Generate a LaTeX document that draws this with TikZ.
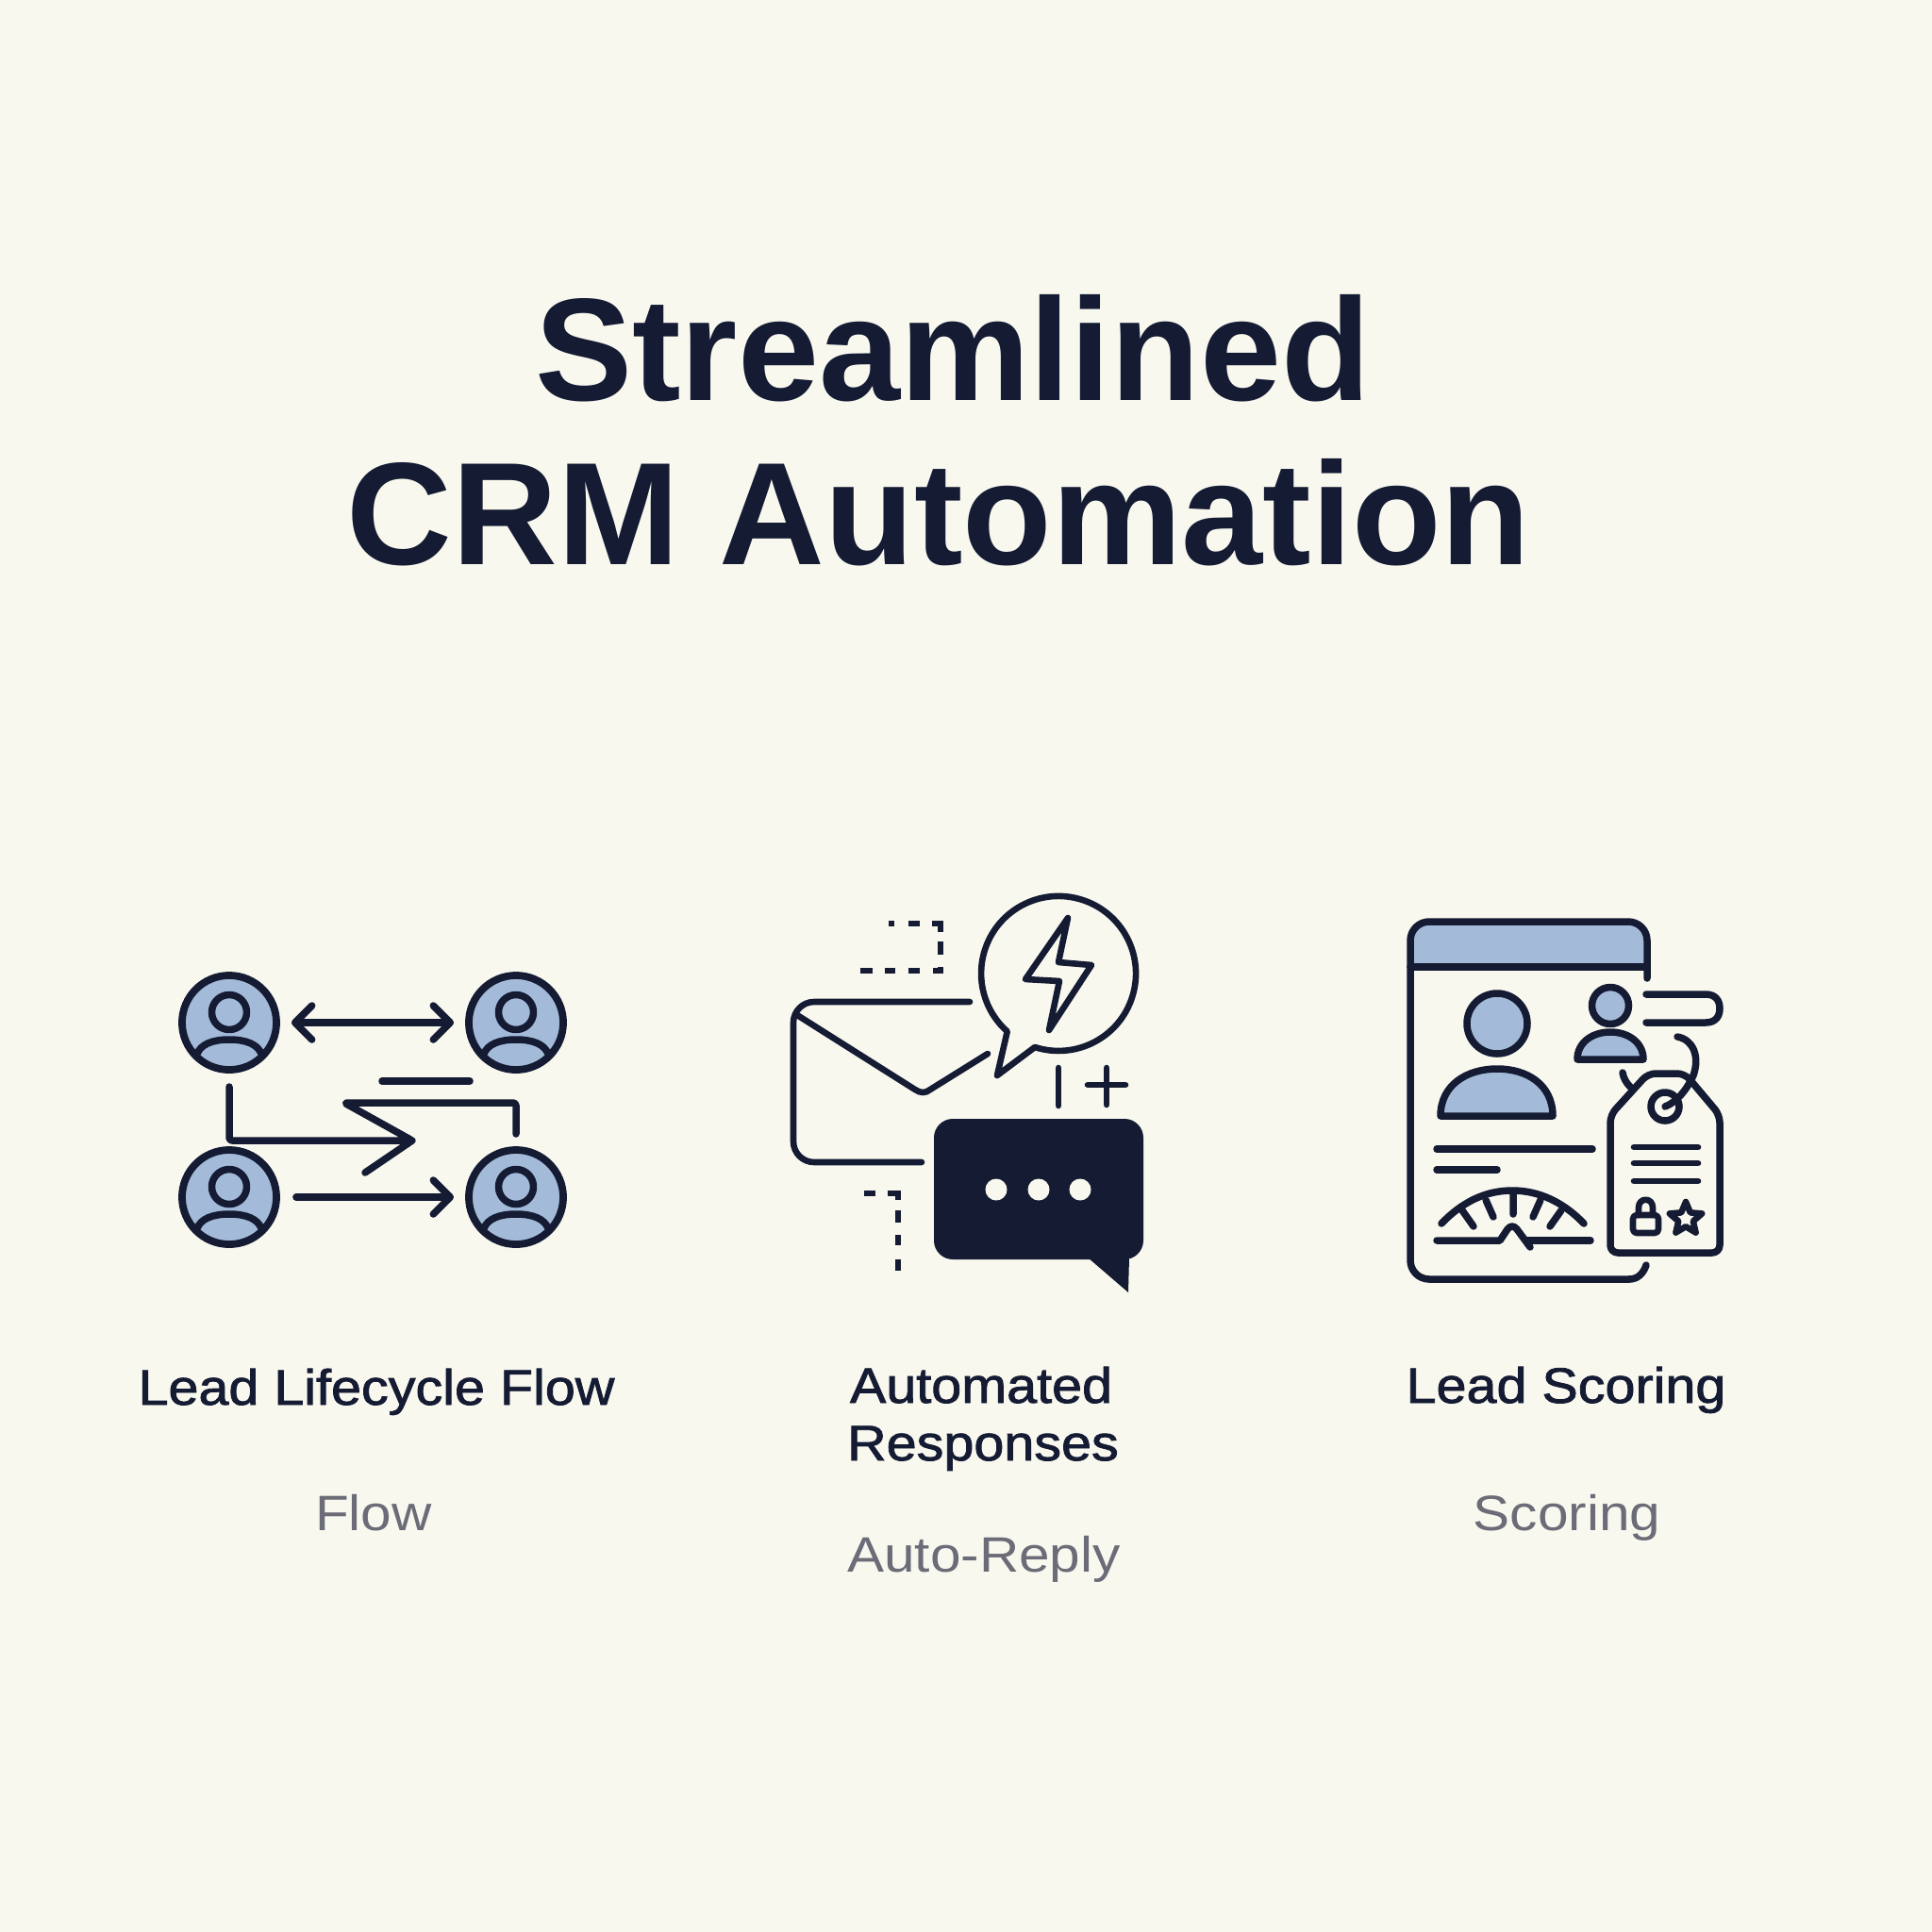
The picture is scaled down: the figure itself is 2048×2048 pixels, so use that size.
\documentclass[tikz,border=0pt]{standalone}
\usepackage{fontspec}
\setmainfont{Liberation Sans}
\newfontfamily\labelfont[FakeBold=1.6, FakeStretch=1.09]{Liberation Sans}
\newfontfamily\subfont[FakeStretch=1.11]{Liberation Sans}
\usetikzlibrary{arrows.meta, shapes.geometric}

\definecolor{paper}{HTML}{F8F8EF}
\definecolor{ink}{HTML}{141B33}
\definecolor{skyfill}{HTML}{A3BBD9}
\definecolor{greytext}{HTML}{6C6C78}

\tikzset{
	ln/.style={ink, line width=0.075cm, line cap=round, line join=round},
	lnthin/.style={ink, line width=0.066cm, line cap=round, line join=round},
	barb/.style={-{Straight Barb[round, length=0.18cm, width=0.36cm]}},
	dbarb/.style={{Straight Barb[round, length=0.18cm, width=0.36cm]}-{Straight Barb[round, length=0.18cm, width=0.36cm]}},
	person/.style={circle, draw=ink, fill=skyfill, line width=0.078cm, minimum size=1cm, inner sep=0pt},
	titletext/.style={ink, font=\fontsize{44}{44}\selectfont\bfseries, anchor=base},
	labeltext/.style={ink, font=\fontsize{15}{15}\selectfont\labelfont, anchor=base},
	subtext/.style={greytext, font=\fontsize{15}{15}\selectfont\subfont, anchor=base},
}

\begin{document}
\begin{tikzpicture}[x=0.01cm, y=-0.01cm]
	\fill[paper] (0,0) rectangle (2048,2048);
	\useasboundingbox (0,0) rectangle (2048,2048);

	% titles
	\node[titletext] (title1) at (1010,424) {Streamlined};
	\node[titletext] (title2) at (995,598) {CRM Automation};

	% lifecycle flow
	\node[person] (p1) at (243,1084) {};
	\node[person] (p2) at (547,1084) {};
	\node[person] (p3) at (243,1269) {};
	\node[person] (p4) at (547,1269) {};
	\foreach \pp in {p1,p2,p3,p4} {
		\draw[ln] (\pp) ++(0,-11) circle (18.5);
		\begin{scope}
			\clip (\pp) circle (50);
			\draw[ln] (\pp) ++(-34,33) .. controls +(4,-10) and +(-18,0) .. ++(34,-15) .. controls +(18,0) and +(-4,-10) .. ++(34,15);
		\end{scope}
	}
	\draw[ln, dbarb, shorten <=0.12cm, shorten >=0.12cm] (p1) -- (p2);
	\draw[ln, barb, shorten <=0.17cm, shorten >=0.12cm] (p3) -- (p4);
	\draw[ln] (405,1146) -- (498,1146);
	\draw[ln, rounded corners=0.03cm] (547,1202) -- (547,1169) -- (365,1169) -- (437,1209) -- (243,1209) -- (243,1152);
	\draw[ln] (387,1243) -- (437,1209);

	% envelope
	\draw[lnthin, rounded corners=0.22cm] (1028,1062) -- (841,1062) -- (841,1232) -- (977,1232);
	\draw[lnthin] (845,1076) -- (970,1155) .. controls (976,1159) and (981,1159) .. (986,1155) -- (1047,1117);
	% bolt bubble
	\draw[lnthin] (1097,1110) arc[start angle=107.8, end angle=-228.5, radius=82] -- (1057,1140) -- cycle;
	\draw[lnthin] (1132,973) -- (1122,1020) -- (1157,1023) -- (1112,1092) -- (1123,1040) -- (1087,1038) -- cycle;
	% dashes
	\draw[ink, line width=0.066cm] (942,979) -- (948,979) (963,979) -- (975,979) (988,979) -- (997,979) -- (997,988)
		(997,998) -- (997,1012) (997,1025) -- (997,1029) -- (989,1029) (975,1029) -- (963,1029) (949,1029) -- (938,1029) (925,1029) -- (912,1029);
	\draw[ink, line width=0.066cm] (916,1265) -- (928,1265) (941,1265) -- (952,1265) -- (952,1272)
		(952,1283) -- (952,1296) (952,1309) -- (952,1320) (952,1335) -- (952,1347);
	% reply bubble
	\draw[lnthin] (1122,1132) -- (1122,1172);
	\draw[lnthin] (1153,1150) -- (1193,1150) (1173,1132) -- (1173,1171);
	\fill[ink, rounded corners=0.2cm] (990,1186) rectangle (1212,1335);
	\fill[ink] (1153,1333) -- (1196,1370) -- (1197,1333) -- cycle;
	\foreach \dx in {1056,1101,1145}
		\fill[paper] (\dx,1261) circle (11.5);

	% profile card
	\fill[skyfill] (1495,1025) [rounded corners=0.2cm] -- (1495,977) -- (1746,977) [sharp corners] -- (1746,1025) -- cycle;
	\draw[ln, rounded corners=0.2cm] (1746,1037) -- (1746,977) -- (1495,977) -- (1495,1356) -- (1727,1356);
	\draw[ln] (1727,1356) .. controls (1736,1356) and (1742,1350) .. (1745,1341);
	\draw[ln] (1495,1025) -- (1746,1025);
	\draw[ln, fill=skyfill] (1587,1085) circle (32);
	\draw[ln, fill=skyfill] (1527,1183) .. controls (1527,1150) and (1555,1133) .. (1587,1133) .. controls (1619,1133) and (1646,1150) .. (1646,1183) -- cycle;
	\draw[ln, fill=skyfill] (1707,1066) circle (19.5);
	\draw[ln, fill=skyfill] (1672,1123) .. controls (1672,1105) and (1688,1094) .. (1707,1094) .. controls (1726,1094) and (1742,1105) .. (1742,1123) -- cycle;
	\draw[ln] (1745,1054) -- (1808,1054) .. controls (1818,1054) and (1823,1060) .. (1823,1069) .. controls (1823,1078) and (1818,1084) .. (1808,1084) -- (1745,1084);
	\draw[ln] (1523,1218) -- (1688,1218);
	\draw[ln] (1523,1240) -- (1587,1240);
	% gauge
	\draw[ln] (1528,1297) .. controls (1550,1274) and (1575,1262) .. (1603,1262) .. controls (1631,1262) and (1657,1274) .. (1679,1297);
	\draw[ln] (1550,1283) -- (1562,1300) (1575,1272) -- (1583,1290) (1604,1265) -- (1604,1287) (1633,1272) -- (1625,1290) (1655,1283) -- (1643,1300);
	\draw[ln] (1523,1315) -- (1590,1315) -- (1598,1303) .. controls (1601,1299) and (1605,1299) .. (1608,1303) -- (1622,1322);
	\draw[ln] (1618,1315) -- (1686,1315);
	% tag
	\draw[ln, rounded corners=0.08cm] (1707,1182) -- (1747,1138) -- (1786,1138) -- (1823,1182) -- (1823,1328) -- (1707,1328) -- cycle;
	\draw[ln] (1720,1137) .. controls (1721,1143) and (1724,1148) .. (1728,1152);
	\draw[ln] (1765,1173) circle (15);
	\draw[ln] (1765,1173) .. controls (1778,1168) and (1788,1155) .. (1795,1140) .. controls (1802,1120) and (1795,1102) .. (1778,1099);
	\draw[lnthin] (1732,1216) -- (1800,1216) (1732,1233) -- (1800,1233) (1732,1252) -- (1800,1252);
	\draw[lnthin, rounded corners=0.04cm] (1731,1288) rectangle (1758,1307);
	\draw[lnthin] (1737,1288) -- (1737,1280) .. controls (1737,1269) and (1752,1269) .. (1752,1280) -- (1752,1288);
	\node[star, star points=5, star point ratio=2.2, draw=ink, line width=0.066cm, line join=round, minimum size=0.36cm, inner sep=0pt] (star1) at (1787,1292) {};

	% captions
	\node[labeltext] (lab1) at (399,1489) {Lead Lifecycle Flow};
	\node[subtext] (sub1) at (396,1622) {Flow};
	\node[labeltext] (lab2a) at (1040,1487) {Automated};
	\node[labeltext] (lab2b) at (1042,1548) {Responses};
	\node[subtext] (sub2) at (1043,1666) {Auto-Reply};
	\node[labeltext] (lab3) at (1660,1487) {Lead Scoring};
	\node[subtext] (sub3) at (1661,1622) {Scoring};
\end{tikzpicture}
\end{document}
